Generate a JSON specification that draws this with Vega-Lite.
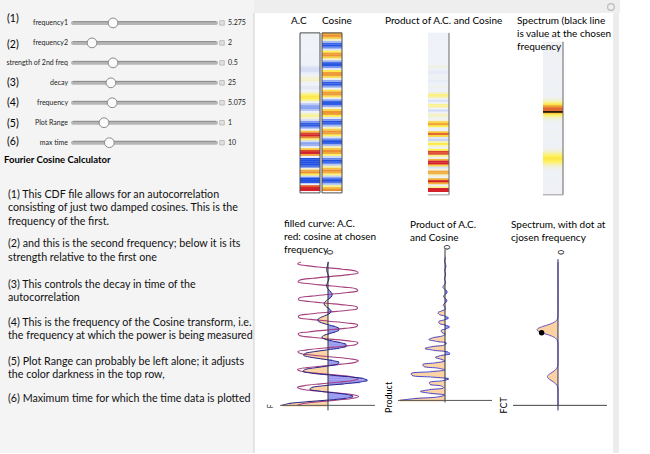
{
  "$schema": "https://vega.github.io/schema/vega-lite/v6.json",
  "width": 650,
  "height": 454,
  "autosize": {"type": "fit", "contains": "padding"},
  "padding": 0,
  "background": "white",
  "config": {
    "view": {"stroke": null},
    "axis": {"disable": true},
    "legend": {"disable": true},
    "bar": {"continuousBandSize": 2.2},
    "text": {"font": "Lato"},
    "point": {"opacity": 1}
  },
  "datasets": {
    "series": [
      {"t":0,"ac":1.5,"cs":1,"pr":1.5},
      {"t":0.125,"ac":1.274,"cs":0.806,"pr":1.026},
      {"t":0.25,"ac":0.687,"cs":0.298,"pr":0.204},
      {"t":0.375,"ac":-0.03,"cs":-0.326,"pr":0.01},
      {"t":0.5,"ac":-0.599,"cs":-0.823,"pr":0.493},
      {"t":0.625,"ac":-0.818,"cs":-1.0,"pr":0.818},
      {"t":0.75,"ac":-0.636,"cs":-0.787,"pr":0.501},
      {"t":0.875,"ac":-0.18,"cs":-0.269,"pr":0.048},
      {"t":1.0,"ac":0.312,"cs":0.355,"pr":0.111},
      {"t":1.125,"ac":0.595,"cs":0.84,"pr":0.5},
      {"t":1.25,"ac":0.518,"cs":0.998,"pr":0.517},
      {"t":1.375,"ac":0.096,"cs":0.768,"pr":0.074},
      {"t":1.5,"ac":-0.506,"cs":0.239,"pr":-0.121},
      {"t":1.625,"ac":-1.039,"cs":-0.383,"pr":0.398},
      {"t":1.75,"ac":-1.282,"cs":-0.856,"pr":1.097},
      {"t":1.875,"ac":-1.133,"cs":-0.996,"pr":1.128},
      {"t":2.0,"ac":-0.646,"cs":-0.748,"pr":0.483},
      {"t":2.125,"ac":-0.009,"cs":-0.21,"pr":0.002},
      {"t":2.25,"ac":0.54,"cs":0.411,"pr":0.222},
      {"t":2.375,"ac":0.812,"cs":0.871,"pr":0.707},
      {"t":2.5,"ac":0.744,"cs":0.993,"pr":0.739},
      {"t":2.625,"ac":0.412,"cs":0.728,"pr":0.3},
      {"t":2.75,"ac":-0.005,"cs":0.18,"pr":-0.001},
      {"t":2.875,"ac":-0.306,"cs":-0.438,"pr":0.134},
      {"t":3.0,"ac":-0.358,"cs":-0.886,"pr":0.317},
      {"t":3.125,"ac":-0.144,"cs":-0.989,"pr":0.142},
      {"t":3.25,"ac":0.232,"cs":-0.707,"pr":-0.164},
      {"t":3.375,"ac":0.6,"cs":-0.15,"pr":-0.09},
      {"t":3.5,"ac":0.798,"cs":0.465,"pr":0.371},
      {"t":3.625,"ac":0.737,"cs":0.899,"pr":0.663},
      {"t":3.75,"ac":0.439,"cs":0.984,"pr":0.432},
      {"t":3.875,"ac":0.017,"cs":0.685,"pr":0.012},
      {"t":4.0,"ac":-0.37,"cs":0.12,"pr":-0.044},
      {"t":4.125,"ac":-0.591,"cs":-0.492,"pr":0.291},
      {"t":4.25,"ac":-0.588,"cs":-0.912,"pr":0.536},
      {"t":4.375,"ac":-0.398,"cs":-0.978,"pr":0.389},
      {"t":4.5,"ac":-0.125,"cs":-0.663,"pr":0.083},
      {"t":4.625,"ac":0.106,"cs":-0.09,"pr":-0.01},
      {"t":4.75,"ac":0.202,"cs":0.518,"pr":0.105},
      {"t":4.875,"ac":0.14,"cs":0.924,"pr":0.129},
      {"t":5.0,"ac":-0.036,"cs":0.971,"pr":-0.035},
      {"t":5.125,"ac":-0.232,"cs":0.64,"pr":-0.148},
      {"t":5.25,"ac":-0.357,"cs":0.06,"pr":-0.021},
      {"t":5.375,"ac":-0.352,"cs":-0.544,"pr":0.191},
      {"t":5.5,"ac":-0.22,"cs":-0.935,"pr":0.206},
      {"t":5.625,"ac":-0.013,"cs":-0.963,"pr":0.013},
      {"t":5.75,"ac":0.189,"cs":-0.616,"pr":-0.116},
      {"t":5.875,"ac":0.315,"cs":-0.03,"pr":-0.009},
      {"t":6.0,"ac":0.33,"cs":0.57,"pr":0.188},
      {"t":6.125,"ac":0.246,"cs":0.946,"pr":0.233},
      {"t":6.25,"ac":0.108,"cs":0.955,"pr":0.103},
      {"t":6.375,"ac":-0.021,"cs":0.592,"pr":-0.012},
      {"t":6.5,"ac":-0.094,"cs":0.0,"pr":0.0},
      {"t":6.625,"ac":-0.093,"cs":-0.593,"pr":0.055},
      {"t":6.75,"ac":-0.033,"cs":-0.955,"pr":0.032},
      {"t":6.875,"ac":0.049,"cs":-0.945,"pr":-0.046},
      {"t":7.0,"ac":0.11,"cs":-0.568,"pr":-0.062},
      {"t":7.125,"ac":0.123,"cs":0.031,"pr":0.004},
      {"t":7.25,"ac":0.083,"cs":0.618,"pr":0.051},
      {"t":7.375,"ac":0.008,"cs":0.964,"pr":0.008},
      {"t":7.5,"ac":-0.07,"cs":0.935,"pr":-0.065},
      {"t":7.625,"ac":-0.123,"cs":0.542,"pr":-0.067},
      {"t":7.75,"ac":-0.135,"cs":-0.061,"pr":0.008},
      {"t":7.875,"ac":-0.106,"cs":-0.641,"pr":0.068},
      {"t":8.0,"ac":-0.053,"cs":-0.971,"pr":0.051},
      {"t":8.125,"ac":0.0,"cs":-0.924,"pr":0.0},
      {"t":8.25,"ac":0.036,"cs":-0.516,"pr":-0.019},
      {"t":8.375,"ac":0.044,"cs":0.091,"pr":0.004},
      {"t":8.5,"ac":0.029,"cs":0.664,"pr":0.019},
      {"t":8.625,"ac":0.002,"cs":0.978,"pr":0.002},
      {"t":8.75,"ac":-0.021,"cs":0.912,"pr":-0.019},
      {"t":8.875,"ac":-0.031,"cs":0.49,"pr":-0.015},
      {"t":9.0,"ac":-0.024,"cs":-0.122,"pr":0.003},
      {"t":9.125,"ac":-0.004,"cs":-0.686,"pr":0.003},
      {"t":9.25,"ac":0.019,"cs":-0.984,"pr":-0.019},
      {"t":9.375,"ac":0.035,"cs":-0.899,"pr":-0.031},
      {"t":9.5,"ac":0.04,"cs":-0.464,"pr":-0.019},
      {"t":9.625,"ac":0.033,"cs":0.152,"pr":0.005},
      {"t":9.75,"ac":0.018,"cs":0.708,"pr":0.013},
      {"t":9.875,"ac":0.001,"cs":0.989,"pr":0.001},
      {"t":10.0,"ac":-0.011,"cs":0.885,"pr":-0.01}
    ],
    "spectrum": [
      {"w":0,"f":0},{"w":0.5,"f":0},{"w":0.9,"f":0},{"w":1.0,"f":0.001},{"w":1.1,"f":0.003},{"w":1.2,"f":0.009},
      {"w":1.3,"f":0.024},{"w":1.4,"f":0.053},{"w":1.5,"f":0.105},{"w":1.6,"f":0.184},{"w":1.7,"f":0.285},
      {"w":1.8,"f":0.389},{"w":1.9,"f":0.47},{"w":2.0,"f":0.5},{"w":2.1,"f":0.47},{"w":2.2,"f":0.389},
      {"w":2.3,"f":0.285},{"w":2.4,"f":0.184},{"w":2.5,"f":0.105},{"w":2.6,"f":0.053},{"w":2.7,"f":0.024},
      {"w":2.8,"f":0.009},{"w":2.9,"f":0.003},{"w":3.0,"f":0.001},{"w":3.1,"f":0},{"w":3.5,"f":0},{"w":4.0,"f":0},
      {"w":4.2,"f":0},{"w":4.3,"f":0.003},{"w":4.4,"f":0.008},{"w":4.5,"f":0.023},{"w":4.6,"f":0.058},
      {"w":4.7,"f":0.127},{"w":4.8,"f":0.244},{"w":4.9,"f":0.415},{"w":5.0,"f":0.623},{"w":5.1,"f":0.826},
      {"w":5.2,"f":0.965},{"w":5.3,"f":0.996},{"w":5.4,"f":0.907},{"w":5.5,"f":0.729},{"w":5.6,"f":0.517},
      {"w":5.7,"f":0.323},{"w":5.8,"f":0.179},{"w":5.9,"f":0.087},{"w":6.0,"f":0.037},{"w":6.1,"f":0.014},
      {"w":6.2,"f":0.005},{"w":6.3,"f":0},{"w":7,"f":0},{"w":8,"f":0},{"w":9,"f":0},{"w":10,"f":0}
    ],
    "sliders": [
      {"row":1,"label":"frequency1","value":"5.275","frac":0.28},
      {"row":2,"label":"frequency2","value":"2","frac":0.133},
      {"row":3,"label":"strength of 2nd freq","value":"0.5","frac":0.28},
      {"row":4,"label":"decay","value":"25","frac":0.265},
      {"row":5,"label":"frequency","value":"5.075","frac":0.274},
      {"row":6,"label":"Plot Range","value":"1","frac":0.217},
      {"row":7,"label":"max time","value":"10","frac":0.254}
    ],
    "nums": [
      {"row":0.8,"n":"(1)"},{"row":2.1,"n":"(2)"},{"row":4,"n":"(3)"},
      {"row":5,"n":"(4)"},{"row":6.05,"n":"(5)"},{"row":6.95,"n":"(6)"}
    ],
    "desc": [
      {"line":0,"text":"(1) This CDF file allows for an autocorrelation"},
      {"line":1,"text":"consisting of  just two damped cosines. This is the"},
      {"line":2,"text":"frequency of the first."},
      {"line":3.7,"text":"(2) and this is the second frequency; below it is its"},
      {"line":4.7,"text":"strength relative to the first one"},
      {"line":6.7,"text":"(3) This controls the decay in time of the"},
      {"line":7.7,"text":"autocorrelation"},
      {"line":9.5,"text":"(4) This is the frequency of the Cosine transform, i.e."},
      {"line":10.5,"text":"the frequency at which the power is being measured"},
      {"line":12.4,"text":"(5) Plot Range can probably be left alone; it adjusts"},
      {"line":13.4,"text":"the color darkness in the top row,"},
      {"line":15.2,"text":"(6) Maximum time for which the time data is plotted"}
    ]
  },
  "resolve": {"scale": {"x": "independent", "y": "independent", "color": "independent"}},
  "layer": [
    {
      "layer": [
        {"data": {"values": [{}]}, "mark": {"type": "rect", "color": "#f4f4f4"},
         "encoding": {"x": {"datum": -0.51049, "type": "quantitative", "scale": {"domain": [-0.51049, 4.03497], "nice": false, "zero": false}}, "x2": {"datum": 1.2657},
                      "y": {"datum": -0.15, "type": "quantitative", "scale": {"domain": [-0.15, 22.55], "reverse": true, "nice": false, "zero": false}}, "y2": {"datum": 22.55}}},
        {"data": {"values": [{}]}, "mark": {"type": "rect", "color": "#eeeeee"},
         "encoding": {"x": {"datum": 1.2657, "type": "quantitative"}, "x2": {"datum": 3.8252}, "y": {"datum": -0.15, "type": "quantitative"}, "y2": {"datum": 0.5}}},
        {"data": {"values": [{}]}, "mark": {"type": "rect", "color": "#ececec"},
         "encoding": {"x": {"datum": 3.7762, "type": "quantitative"}, "x2": {"datum": 3.8182}, "y": {"datum": 0.5, "type": "quantitative"}, "y2": {"datum": 22.55}}},
        {"data": {"values": [{}]}, "mark": {"type": "rule", "color": "#cfcfcf"},
         "encoding": {"x": {"datum": 1.2657, "type": "quantitative"}, "y": {"datum": 0.5, "type": "quantitative"}, "y2": {"datum": 22.55}}},
        {"data": {"values": [{}]}, "mark": {"type": "point", "shape": "circle", "filled": false, "size": 45, "color": "#bbbbbb", "strokeWidth": 1.2},
         "encoding": {"x": {"datum": 3.762, "type": "quantitative"}, "y": {"datum": 0.2, "type": "quantitative"}}},
        {"data": {"name": "sliders"}, "mark": {"type": "rule", "color": "#b5b5b5", "strokeWidth": 4, "strokeCap": "round"},
         "encoding": {"x": {"datum": 0, "type": "quantitative"}, "x2": {"datum": 1}, "y": {"field": "row", "type": "quantitative"}}},
        {"data": {"name": "sliders"}, "mark": {"type": "rule", "color": "#8f8f8f", "strokeWidth": 1, "yOffset": -1.3},
         "encoding": {"x": {"datum": 0, "type": "quantitative"}, "x2": {"datum": 1}, "y": {"field": "row", "type": "quantitative"}}},
        {"data": {"name": "sliders"}, "mark": {"type": "point", "shape": "circle", "filled": true, "size": 95, "fill": "#fbfbfb", "stroke": "#8a8a8a", "strokeWidth": 1, "opacity": 1},
         "encoding": {"x": {"field": "frac", "type": "quantitative"}, "y": {"field": "row", "type": "quantitative"}}},
        {"data": {"name": "sliders"}, "mark": {"type": "point", "shape": "square", "filled": true, "size": 20, "fill": "#e2e2e2", "stroke": "#aaaaaa", "strokeWidth": 0.7, "opacity": 1},
         "encoding": {"x": {"datum": 1.042, "type": "quantitative"}, "y": {"field": "row", "type": "quantitative"}}},
        {"data": {"name": "sliders"}, "mark": {"type": "text", "align": "right", "baseline": "middle", "fontSize": 7, "color": "#222222"},
         "encoding": {"x": {"datum": -0.035, "type": "quantitative"}, "y": {"field": "row", "type": "quantitative"}, "text": {"field": "label"}}},
        {"data": {"name": "sliders"}, "mark": {"type": "text", "align": "left", "baseline": "middle", "fontSize": 7, "color": "#222222"},
         "encoding": {"x": {"datum": 1.084, "type": "quantitative"}, "y": {"field": "row", "type": "quantitative"}, "text": {"field": "value"}}},
        {"data": {"name": "nums"}, "mark": {"type": "text", "align": "left", "baseline": "middle", "fontSize": 10.5, "color": "#000000"},
         "encoding": {"x": {"datum": -0.4615, "type": "quantitative"}, "y": {"field": "row", "type": "quantitative"}, "text": {"field": "n"}}},
        {"data": {"values": [{}]}, "mark": {"type": "text", "align": "left", "baseline": "middle", "fontSize": 9.5, "fontWeight": "bold", "color": "#000000"},
         "encoding": {"x": {"datum": -0.4825, "type": "quantitative"}, "y": {"datum": 7.85, "type": "quantitative"}, "text": {"value": "Fourier Cosine Calculator"}}}
      ]
    },
    {
      "layer": [
        {"data": {"name": "desc"}, "mark": {"type": "text", "align": "left", "baseline": "middle", "fontSize": 10.7, "color": "#111111"},
         "encoding": {"x": {"datum": -0.4545, "type": "quantitative", "scale": {"domain": [-0.51049, 4.03497], "nice": false, "zero": false}},
                      "y": {"field": "line", "type": "quantitative", "scale": {"domain": [-14.444, 19.185], "reverse": true, "nice": false, "zero": false}},
                      "text": {"field": "text"}}}
      ]
    },
    {
      "layer": [
        {"data": {"name": "series"}, "mark": {"type": "bar", "orient": "horizontal"},
         "encoding": {"x": {"datum": 0, "type": "quantitative", "scale": {"domain": [-15, 17.5], "nice": false, "zero": false}}, "x2": {"datum": 1},
                      "y": {"field": "t", "type": "quantitative", "scale": {"domain": [-16.709, 12.025], "nice": false, "zero": false}},
                      "color": {"field": "ac", "type": "quantitative", "scale": {"domain": [-0.62, -0.3, -0.05, 0.05, 0.3, 0.58, 0.8], "range": ["#1f50e2", "#a3b6f2", "#eef1f7", "#eef1f7", "#fff14e", "#ec9535", "#d3202b"], "clamp": true, "interpolate": "rgb"}}}},
        {"data": {"values": [{}]}, "mark": {"type": "rect", "filled": false, "stroke": "#4d4d4d", "strokeWidth": 1},
         "encoding": {"x": {"datum": 0, "type": "quantitative"}, "x2": {"datum": 1}, "y": {"datum": -0.19, "type": "quantitative"}, "y2": {"datum": 10.06}}},
        {"data": {"values": [{}]}, "mark": {"type": "text", "align": "left", "baseline": "alphabetic", "fontSize": 10, "color": "#000000"},
         "encoding": {"x": {"datum": -0.45, "type": "quantitative"}, "y": {"datum": 10.601, "type": "quantitative"}, "text": {"value": "A.C"}}}
      ]
    },
    {
      "layer": [
        {"data": {"name": "series"}, "mark": {"type": "bar", "orient": "horizontal"},
         "encoding": {"x": {"datum": 0, "type": "quantitative", "scale": {"domain": [-16.1, 16.4], "nice": false, "zero": false}}, "x2": {"datum": 1},
                      "y": {"field": "t", "type": "quantitative", "scale": {"domain": [-16.709, 12.025], "nice": false, "zero": false}},
                      "color": {"field": "cs", "type": "quantitative", "scale": {"domain": [-1, -0.5, 0, 0.5, 0.97, 1.35], "range": ["#1f50e2", "#a3b6f2", "#eef1f7", "#fff14e", "#ec9535", "#d3202b"], "clamp": true, "interpolate": "rgb"}}}},
        {"data": {"values": [{}]}, "mark": {"type": "rect", "filled": false, "stroke": "#4d4d4d", "strokeWidth": 1},
         "encoding": {"x": {"datum": 0, "type": "quantitative"}, "x2": {"datum": 1}, "y": {"datum": -0.19, "type": "quantitative"}, "y2": {"datum": 10.06}}},
        {"data": {"values": [{}]}, "mark": {"type": "text", "align": "left", "baseline": "alphabetic", "fontSize": 10, "color": "#000000"},
         "encoding": {"x": {"datum": 0, "type": "quantitative"}, "y": {"datum": 10.601, "type": "quantitative"}, "text": {"value": "Cosine"}}}
      ]
    },
    {
      "layer": [
        {"data": {"name": "series"}, "mark": {"type": "bar", "orient": "horizontal"},
         "encoding": {"x": {"datum": 0, "type": "quantitative", "scale": {"domain": [-20.381, 10.571], "nice": false, "zero": false}}, "x2": {"datum": 1},
                      "y": {"field": "t", "type": "quantitative", "scale": {"domain": [-16.541, 12.013], "nice": false, "zero": false}},
                      "color": {"field": "pr", "type": "quantitative", "scale": {"domain": [-0.62, -0.3, -0.04, 0.04, 0.3, 0.58, 0.8], "range": ["#1f50e2", "#a3b6f2", "#eef1f7", "#eef1f7", "#fff14e", "#ec9535", "#d3202b"], "clamp": true, "interpolate": "rgb"}}}},
        {"data": {"values": [{}]}, "mark": {"type": "rule", "color": "#666666"},
         "encoding": {"x": {"datum": 1, "type": "quantitative"}, "y": {"datum": -0.25, "type": "quantitative"}, "y2": {"datum": 10.06}}},
        {"data": {"values": [{}]}, "mark": {"type": "rule", "color": "#9a9a9a"},
         "encoding": {"x": {"datum": 0, "type": "quantitative"}, "x2": {"datum": 1}, "y": {"datum": -0.25, "type": "quantitative"}}},
        {"data": {"values": [{}]}, "mark": {"type": "text", "align": "left", "baseline": "alphabetic", "fontSize": 10, "color": "#000000"},
         "encoding": {"x": {"datum": -2.048, "type": "quantitative"}, "y": {"datum": 10.597, "type": "quantitative"}, "text": {"value": "Product of A.C. and Cosine"}}}
      ]
    },
    {
      "layer": [
        {"data": {"values": [{}]}, "mark": {"type": "rect", "color": "#eff1f5"},
         "encoding": {"x": {"datum": 0, "type": "quantitative", "scale": {"domain": [-27.15, 5.35], "nice": false, "zero": false}}, "x2": {"datum": 1},
                      "y": {"datum": -0.42, "type": "quantitative", "scale": {"domain": [-17.384, 12.347], "nice": false, "zero": false}}, "y2": {"datum": 9.728}}},
        {"data": {"name": "spectrum"}, "mark": {"type": "bar", "orient": "horizontal"},
         "encoding": {"x": {"datum": 0, "type": "quantitative"}, "x2": {"datum": 1},
                      "y": {"field": "w", "type": "quantitative"},
                      "color": {"field": "f", "type": "quantitative", "scale": {"domain": [-0.9, -0.45, 0, 0.45, 0.85, 1.2], "range": ["#1f50e2", "#a3b6f2", "#eef1f7", "#fff14e", "#ec9535", "#d3202b"], "clamp": true, "interpolate": "rgb"}}}},
        {"data": {"values": [{}]}, "mark": {"type": "rule", "color": "#000000", "strokeWidth": 1.5},
         "encoding": {"x": {"datum": 0, "type": "quantitative"}, "x2": {"datum": 1}, "y": {"datum": 5.075, "type": "quantitative"}}},
        {"data": {"values": [{}]}, "mark": {"type": "rule", "color": "#666666"},
         "encoding": {"x": {"datum": 1, "type": "quantitative"}, "y": {"datum": -0.42, "type": "quantitative"}, "y2": {"datum": 9.728}}},
        {"data": {"values": [{}]}, "mark": {"type": "rule", "color": "#9a9a9a"},
         "encoding": {"x": {"datum": 0, "type": "quantitative"}, "x2": {"datum": 1}, "y": {"datum": -0.42, "type": "quantitative"}}},
        {"data": {"values": [{}]}, "mark": {"type": "text", "align": "left", "baseline": "alphabetic", "fontSize": 10, "lineHeight": 13, "color": "#000000"},
         "encoding": {"x": {"datum": -1.3, "type": "quantitative"}, "y": {"datum": 10.874, "type": "quantitative"}, "text": {"value": ["Spectrum (black line", "is value at the chosen", "frequency"]}}}
      ]
    },
    {
      "layer": [
        {"data": {"name": "series"}, "mark": {"type": "bar", "orient": "horizontal"},
         "encoding": {"y": {"field": "t", "type": "quantitative", "scale": {"domain": [-3.172, 28.138], "nice": false, "zero": false}},
                      "x": {"field": "ac", "type": "quantitative", "scale": {"domain": [-10.489, 10.684], "reverse": true, "nice": false, "zero": false}},
                      "x2": {"datum": 0},
                      "color": {"field": "ac", "type": "quantitative", "scale": {"type": "threshold", "domain": [0], "range": ["#9a9af2", "#fdd2a2"]}}}},
        {"data": {"name": "series"}, "mark": {"type": "line", "interpolate": "catmull-rom", "color": "#a6417e", "strokeWidth": 1.1},
         "encoding": {"y": {"field": "t", "type": "quantitative"}, "x": {"field": "cs", "type": "quantitative"}, "order": {"field": "t", "type": "quantitative"}}},
        {"data": {"name": "series"}, "mark": {"type": "line", "interpolate": "catmull-rom", "color": "#23238c", "strokeWidth": 1},
         "encoding": {"y": {"field": "t", "type": "quantitative"}, "x": {"field": "ac", "type": "quantitative"}, "order": {"field": "t", "type": "quantitative"}}},
        {"data": {"values": [{}]}, "mark": {"type": "rule", "color": "#333333"},
         "encoding": {"x": {"datum": 0, "type": "quantitative"}, "y": {"datum": -0.35, "type": "quantitative"}, "y2": {"datum": 10}}},
        {"data": {"values": [{}]}, "mark": {"type": "rule", "color": "#555555"},
         "encoding": {"x": {"datum": 1.56, "type": "quantitative"}, "x2": {"datum": -1.53}, "y": {"datum": 0, "type": "quantitative"}}},
        {"data": {"values": [{}]}, "mark": {"type": "text", "angle": 270, "fontSize": 7, "align": "center", "baseline": "middle", "color": "#000000"},
         "encoding": {"x": {"datum": 1.857, "type": "quantitative"}, "y": {"datum": -0.07, "type": "quantitative"}, "text": {"value": "F"}}},
        {"data": {"values": [{}]}, "mark": {"type": "text", "angle": 90, "fontSize": 8, "align": "center", "baseline": "middle", "color": "#000000"},
         "encoding": {"x": {"datum": -0.03, "type": "quantitative"}, "y": {"datum": 10.69, "type": "quantitative"}, "text": {"value": "0"}}},
        {"data": {"values": [{}]}, "mark": {"type": "text", "align": "left", "baseline": "alphabetic", "fontSize": 10, "lineHeight": 13, "color": "#000000"},
         "encoding": {"x": {"datum": 1.433, "type": "quantitative"}, "y": {"datum": 12.448, "type": "quantitative"}, "text": {"value": ["filled curve: A.C.", "red: cosine at chosen", "frequency"]}}}
      ]
    },
    {
      "layer": [
        {"data": {"name": "series"}, "mark": {"type": "bar", "orient": "horizontal"},
         "encoding": {"y": {"field": "t", "type": "quantitative", "scale": {"domain": [-3.517, 27.793], "nice": false, "zero": false}},
                      "x": {"field": "pr", "type": "quantitative", "scale": {"domain": [-6.833, 14.833], "reverse": true, "nice": false, "zero": false}},
                      "x2": {"datum": 0},
                      "color": {"field": "pr", "type": "quantitative", "scale": {"type": "threshold", "domain": [0], "range": ["#9a9af2", "#fdd2a2"]}}}},
        {"data": {"name": "series"}, "mark": {"type": "line", "interpolate": "catmull-rom", "color": "#4848cc", "strokeWidth": 1},
         "encoding": {"y": {"field": "t", "type": "quantitative"}, "x": {"field": "pr", "type": "quantitative"}, "order": {"field": "t", "type": "quantitative"}}},
        {"data": {"values": [{}]}, "mark": {"type": "rule", "color": "#333333"},
         "encoding": {"x": {"datum": 0, "type": "quantitative"}, "y": {"datum": -0.14, "type": "quantitative"}, "y2": {"datum": 10.55}}},
        {"data": {"values": [{}]}, "mark": {"type": "rule", "color": "#555555"},
         "encoding": {"x": {"datum": 1.567, "type": "quantitative"}, "x2": {"datum": -1.567}, "y": {"datum": 0, "type": "quantitative"}}},
        {"data": {"values": [{}]}, "mark": {"type": "text", "angle": 270, "fontSize": 9, "align": "center", "baseline": "middle", "color": "#000000"},
         "encoding": {"x": {"datum": 1.867, "type": "quantitative"}, "y": {"datum": 0.207, "type": "quantitative"}, "text": {"value": "Product"}}},
        {"data": {"values": [{}]}, "mark": {"type": "text", "angle": 90, "fontSize": 8, "align": "center", "baseline": "middle", "color": "#000000"},
         "encoding": {"x": {"datum": -0.03, "type": "quantitative"}, "y": {"datum": 10.69, "type": "quantitative"}, "text": {"value": "0"}}},
        {"data": {"values": [{}]}, "mark": {"type": "text", "align": "left", "baseline": "alphabetic", "fontSize": 10, "lineHeight": 13, "color": "#000000"},
         "encoding": {"x": {"datum": 1.167, "type": "quantitative"}, "y": {"datum": 12.034, "type": "quantitative"}, "text": {"value": ["Product of A.C.", "and Cosine"]}}}
      ]
    },
    {
      "layer": [
        {"data": {"name": "spectrum"}, "mark": {"type": "bar", "orient": "horizontal", "color": "#fdd2a2"},
         "encoding": {"y": {"field": "w", "type": "quantitative", "scale": {"domain": [-3.172, 28.138], "nice": false, "zero": false}},
                      "x": {"field": "f", "type": "quantitative", "scale": {"domain": [-4.381, 26.571], "reverse": true, "nice": false, "zero": false}},
                      "x2": {"datum": 0}}},
        {"data": {"name": "spectrum"}, "mark": {"type": "line", "interpolate": "catmull-rom", "color": "#6a5ecf", "strokeWidth": 1},
         "encoding": {"y": {"field": "w", "type": "quantitative"}, "x": {"field": "f", "type": "quantitative"}, "order": {"field": "w", "type": "quantitative"}}},
        {"data": {"values": [{}]}, "mark": {"type": "rule", "color": "#26265e"},
         "encoding": {"x": {"datum": 0, "type": "quantitative"}, "y": {"datum": -0.35, "type": "quantitative"}, "y2": {"datum": 10.2}}},
        {"data": {"values": [{}]}, "mark": {"type": "rule", "color": "#444444"},
         "encoding": {"x": {"datum": 2.143, "type": "quantitative"}, "x2": {"datum": -2.333}, "y": {"datum": 0, "type": "quantitative"}}},
        {"data": {"values": [{"f": 0.779, "w": 5.075}]}, "mark": {"type": "point", "filled": true, "color": "#000000", "size": 30, "opacity": 1},
         "encoding": {"x": {"field": "f", "type": "quantitative"}, "y": {"field": "w", "type": "quantitative"}}},
        {"data": {"values": [{}]}, "mark": {"type": "text", "angle": 270, "fontSize": 9, "align": "center", "baseline": "middle", "color": "#000000"},
         "encoding": {"x": {"datum": 2.571, "type": "quantitative"}, "y": {"datum": 0, "type": "quantitative"}, "text": {"value": "FCT"}}},
        {"data": {"values": [{}]}, "mark": {"type": "text", "angle": 90, "fontSize": 8, "align": "center", "baseline": "middle", "color": "#000000"},
         "encoding": {"x": {"datum": -0.095, "type": "quantitative"}, "y": {"datum": 10.69, "type": "quantitative"}, "text": {"value": "0"}}},
        {"data": {"values": [{}]}, "mark": {"type": "text", "align": "left", "baseline": "alphabetic", "fontSize": 10, "lineHeight": 13, "color": "#000000"},
         "encoding": {"x": {"datum": 2.238, "type": "quantitative"}, "y": {"datum": 12.379, "type": "quantitative"}, "text": {"value": ["Spectrum, with dot at", "cjosen frequency"]}}}
      ]
    }
  ]
}
